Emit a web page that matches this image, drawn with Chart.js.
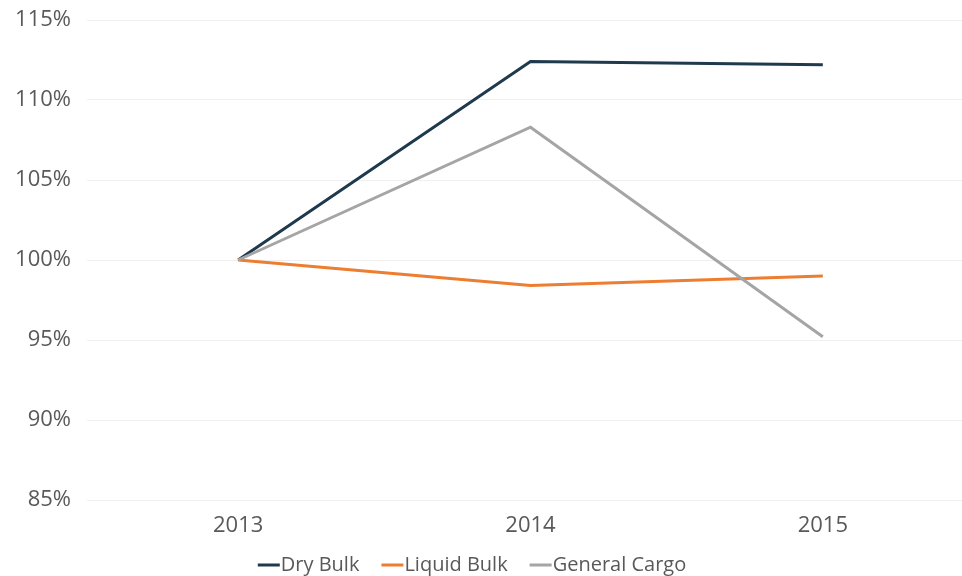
<!DOCTYPE html>
<html>
<head>
<meta charset="utf-8">
<style>
  html, body { margin: 0; padding: 0; background: #ffffff; overflow: hidden; }
  #wrap { position: absolute; left: -25px; top: 0; width: 994px; height: 576px; }
</style>
<script src="https://cdn.jsdelivr.net/npm/chart.js@4/dist/chart.umd.min.js"></script>
</head>
<body>
<div id="wrap"><canvas id="chart" width="994" height="576"></canvas></div>
<script>
// Cargo throughput index, 2013 = 100%
const years = ['2013', '2014', '2015'];
const dryBulk = [100, 112.4, 112.2];
const liquidBulk = [100, 98.4, 99.0];
const generalCargo = [100, 108.3, 95.2];
const yTicks = [85, 90, 95, 100, 105, 110, 115];

const FONT = '"Open Sans", "Segoe UI", sans-serif';
const TEXT = '#595959';

// Compact legend under the axis: short line swatch followed directly by its label
const bottomLegend = {
  id: 'bottomLegend',
  afterDraw(chart) {
    const ctx = chart.ctx;
    const swatch = 22, gap = 1, spacing = 22;
    ctx.save();
    ctx.font = '20px ' + FONT;
    ctx.textBaseline = 'middle';
    const items = chart.data.datasets.map(ds => ({
      label: ds.label, color: ds.borderColor, w: ctx.measureText(ds.label).width
    }));
    const total = items.reduce((s, it) => s + swatch + gap + it.w, 0) + spacing * (items.length - 1);
    let x = chart.width / 2 - total / 2;
    const y = 565;
    items.forEach(it => {
      ctx.strokeStyle = it.color;
      ctx.lineWidth = 3;
      ctx.beginPath();
      ctx.moveTo(x, y);
      ctx.lineTo(x + swatch, y);
      ctx.stroke();
      ctx.fillStyle = TEXT;
      ctx.fillText(it.label, x + swatch + gap, y);
      x += swatch + gap + it.w + spacing;
    });
    ctx.restore();
  }
};

new Chart(document.getElementById('chart'), {
  type: 'line',
  data: {
    labels: years,
    datasets: [
      { label: 'Dry Bulk', data: dryBulk, borderColor: '#1E3A4C', order: 2 },
      { label: 'Liquid Bulk', data: liquidBulk, borderColor: '#ED7D31', order: 1 },
      { label: 'General Cargo', data: generalCargo, borderColor: '#A5A5A5', order: 0 }
    ]
  },
  options: {
    responsive: false,
    animation: false,
    events: [],
    layout: { padding: { top: 20, right: 0, bottom: 0, left: 0 } },
    elements: {
      line: { borderWidth: 3, tension: 0, fill: false },
      point: { radius: 0 }
    },
    plugins: {
      legend: { display: false },
      tooltip: { enabled: false }
    },
    scales: {
      x: {
        offset: true,
        grid: { display: false, drawTicks: false },
        border: { display: false },
        ticks: { color: TEXT, font: { family: FONT, size: 22 }, padding: 13 },
        afterFit(scale) { scale.height = 76; scale.paddingLeft = 0; scale.paddingRight = 0; }
      },
      y: {
        min: 85,
        max: 115,
        afterBuildTicks(scale) { scale.ticks = yTicks.map(v => ({ value: v })); },
        grid: { color: '#EFEFEF', lineWidth: 1, drawTicks: true, tickLength: 5 },
        border: { display: false },
        ticks: {
          color: TEXT,
          font: { family: FONT, size: 22 },
          padding: 16,
          callback: v => v + '%'
        },
        afterFit(scale) { scale.width = 117; scale.paddingTop = 0; scale.paddingBottom = 0; }
      }
    }
  },
  plugins: [bottomLegend]
});
</script>
</body>
</html>
